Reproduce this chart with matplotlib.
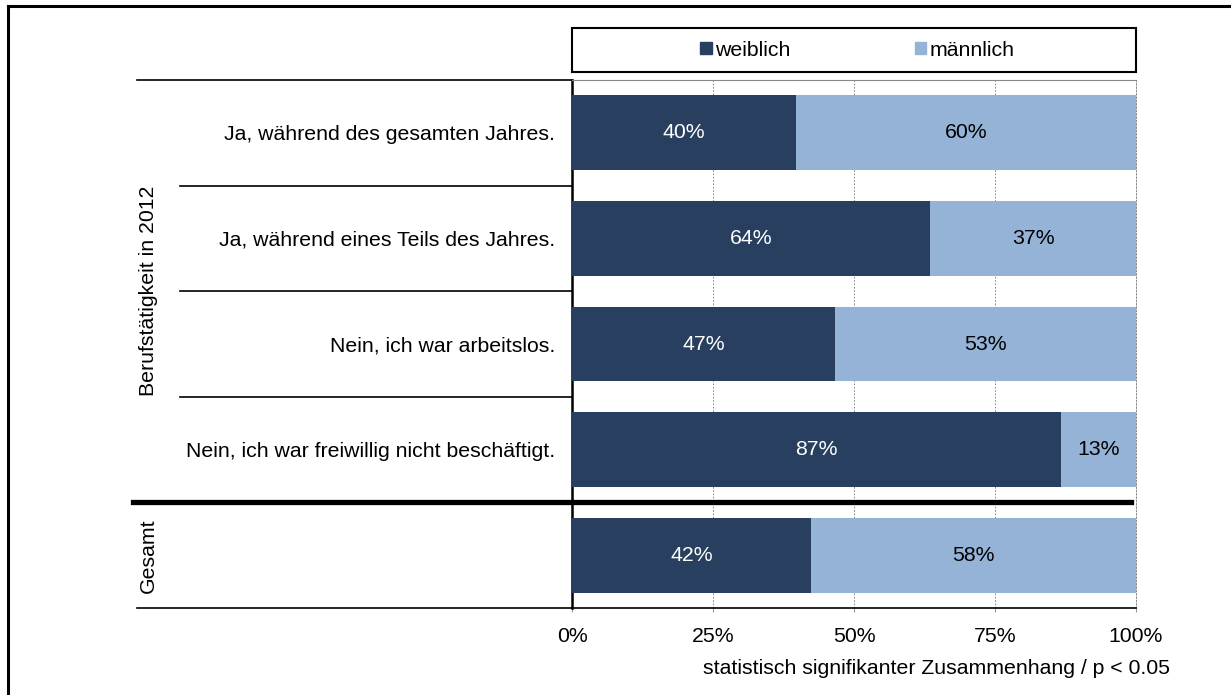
import numpy as np
import matplotlib
matplotlib.use('Agg')
import matplotlib.pyplot as plt
import matplotlib.transforms as mtransforms
from matplotlib.lines import Line2D
from matplotlib.patches import Patch

plt.rcParams['font.family'] = ['Liberation Sans', 'DejaVu Sans']

# Daten
kategorien = ['Ja, während des gesamten Jahres.',
              'Ja, während eines Teils des Jahres.',
              'Nein, ich war arbeitslos.',
              'Nein, ich war freiwillig nicht beschäftigt.',
              '']
weiblich = [39.7, 63.5, 46.6, 86.7, 42.4]
maennlich = [60.3, 36.5, 53.4, 13.3, 57.6]
label_w = ['40%', '64%', '47%', '87%', '42%']
label_m = ['60%', '37%', '53%', '13%', '58%']
x_ticks = [0, 25, 50, 75, 100]
x_ticklabels = ['0%', '25%', '50%', '75%', '100%']

farbe_w = '#283F5F'
farbe_m = '#95B3D7'
fs = 15.3

W, H = 1231, 695
fig = plt.figure(figsize=(W / 100, H / 100), dpi=100)
ax = fig.add_axes([572 / W, 1 - 608 / H, 564 / W, 528 / H])

y = np.arange(len(kategorien))
ax.barh(y, weiblich, height=0.71, color=farbe_w, zorder=3)
ax.barh(y, maennlich, left=weiblich, height=0.71, color=farbe_m, zorder=3)

for i in range(len(y)):
    ax.text(weiblich[i] / 2, y[i], label_w[i], ha='center', va='center',
            color='white', fontsize=fs, zorder=4)
    ax.text(weiblich[i] + maennlich[i] / 2, y[i], label_m[i], ha='center',
            va='center', color='black', fontsize=fs, zorder=4)

ax.set_xlim(0, 100)
ax.set_ylim(len(y) - 0.5, -0.5)
ax.set_xticks(x_ticks)
ax.set_xticklabels(x_ticklabels, fontsize=fs)
ax.set_yticks(y)
ax.set_yticklabels(kategorien, fontsize=fs)
ax.tick_params(axis='y', length=0, pad=12)
ax.tick_params(axis='x', length=3, color='#999999', pad=11)

ax.grid(axis='x', color='#777777', linestyle=(0, (2, 2)), linewidth=0.6, zorder=0)
ax.spines['left'].set_linewidth(1.8)
ax.spines['bottom'].set_linewidth(1.2)
ax.spines['top'].set_color('#888888')
ax.spines['top'].set_linewidth(0.8)
ax.spines['right'].set_color('#777777')
ax.spines['right'].set_linestyle((0, (2, 2)))
ax.spines['right'].set_linewidth(0.6)

# Linien links (Gruppen- und Kategorietrenner)
trans = mtransforms.blended_transform_factory(ax.transAxes, ax.transData)
x_gruppe = (137 - 572) / 564
x_kat = (180 - 572) / 564
for yy in [-0.5, len(y) - 0.5]:
    ax.add_line(Line2D([x_gruppe, 0], [yy, yy], transform=trans, color='black',
                       linewidth=1.2, clip_on=False))
for yy in [0.5, 1.5, 2.5]:
    ax.add_line(Line2D([x_kat, 0], [yy, yy], transform=trans, color='black',
                       linewidth=1.2, clip_on=False))
ax.add_line(Line2D([(133 - 572) / 564, (1131 - 572) / 564], [3.5, 3.5],
                   transform=trans, color='black', linewidth=3.8,
                   clip_on=False, zorder=5))

# Gruppenbeschriftungen
x_glab = (148 - 572) / 564
ax.text(x_glab, 1.5, 'Berufstätigkeit in 2012', transform=trans, rotation=90,
        ha='center', va='center', fontsize=fs)
ax.text(x_glab, 4, 'Gesamt', transform=trans, rotation=90,
        ha='center', va='center', fontsize=fs)

# Legende mit Rahmen
leg = ax.legend(handles=[Patch(color=farbe_w, label='weiblich'),
                         Patch(color=farbe_m, label='männlich')],
                loc='center', bbox_to_anchor=(0.506, (608 - 50) / 528),
                ncol=2, frameon=False, fontsize=fs, handlelength=0.55,
                handleheight=0.55, handletextpad=0.15, columnspacing=5.85)
rahmen = plt.Rectangle((0, (608 - 72) / 528), 1, 44 / 528, transform=ax.transAxes,
                       fill=False, edgecolor='black', linewidth=1.5, clip_on=False)
ax.add_patch(rahmen)

# Fußnote
fig.text(1170 / W, 1 - 669 / H, 'statistisch signifikanter Zusammenhang / p < 0.05',
         ha='right', va='center', fontsize=fs)

# Außenrahmen
fig.add_artist(Line2D([8 / W, 8 / W], [0, 1 - 6 / H], color='black', linewidth=2.2))
fig.add_artist(Line2D([8 / W, 1], [1 - 6 / H, 1 - 6 / H], color='black', linewidth=2.2))

fig.savefig('out.png', dpi=100)
